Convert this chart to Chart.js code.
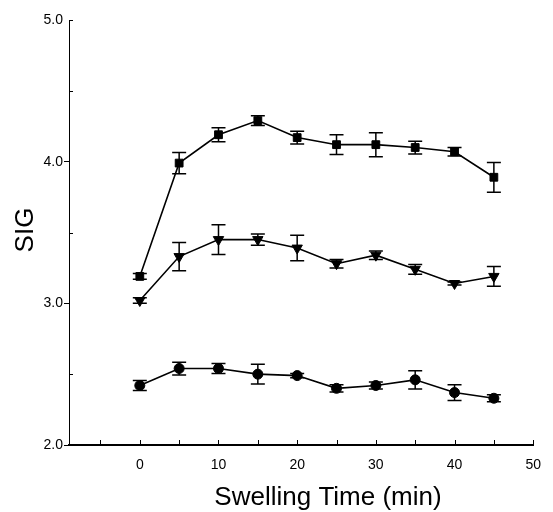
<!DOCTYPE html>
<html>
<head>
<meta charset="utf-8">
<script src="https://cdn.jsdelivr.net/npm/chart.js@4"></script>
<style>
  html, body { margin: 0; padding: 0; background: #fff; }
  #wrap { width: 553px; height: 512px; }
</style>
</head>
<body>
<div id="wrap"><canvas id="chart" width="553" height="512"></canvas></div>
<script>
// swelling time (min)
const times = [0, 5, 10, 15, 20, 25, 30, 35, 40, 45];

// SIG means and error bar half-widths
const squareMean = [3.19, 3.99, 4.19, 4.29, 4.17, 4.12, 4.12, 4.10, 4.07, 3.89];
const squareErr  = [0.02, 0.075, 0.05, 0.035, 0.045, 0.07, 0.085, 0.045, 0.03, 0.105];
const triMean    = [3.02, 3.33, 3.45, 3.45, 3.39, 3.28, 3.34, 3.24, 3.14, 3.19];
const triErr     = [0.02, 0.10, 0.105, 0.04, 0.09, 0.03, 0.03, 0.035, 0.01, 0.07];
const circMean   = [2.42, 2.54, 2.54, 2.50, 2.49, 2.40, 2.42, 2.46, 2.37, 2.33];
const circErr    = [0.035, 0.045, 0.035, 0.07, 0.015, 0.025, 0.025, 0.065, 0.055, 0.025];

// tick positions
const xTicks = [-5, 0, 5, 10, 15, 20, 25, 30, 35, 40, 45, 50];
const yTicks = [2.0, 2.5, 3.0, 3.5, 4.0, 4.5, 5.0];

const FONT = '"Liberation Sans", Arial, sans-serif';

function series(means, errs, style, radius, rotation) {
    return {
        data: times.map((t, i) => ({ x: t, y: means[i] })),
        errors: errs,
        borderColor: '#000',
        backgroundColor: '#000',
        borderWidth: 1.6,
        pointStyle: style,
        pointRadius: radius,
        pointRotation: rotation,
        pointBorderWidth: 1,
        tension: 0
    };
}

// 誤差線: vertical bar with caps, from the y scale
const errorBars = {
    id: 'errorBars',
    beforeDatasetsDraw(chart) {
        const { ctx, scales: { x, y } } = chart;
        ctx.save();
        ctx.strokeStyle = '#000';
        ctx.lineWidth = 1.5;
        chart.data.datasets.forEach(ds => {
            ds.data.forEach((p, i) => {
                const e = ds.errors[i];
                const px = x.getPixelForValue(p.x);
                const top = y.getPixelForValue(p.y + e);
                const bot = y.getPixelForValue(p.y - e);
                ctx.beginPath();
                ctx.moveTo(px, top); ctx.lineTo(px, bot);
                ctx.moveTo(px - 7, top); ctx.lineTo(px + 7, top);
                ctx.moveTo(px - 7, bot); ctx.lineTo(px + 7, bot);
                ctx.stroke();
            });
        });
        ctx.restore();
    }
};

// inward ticks and axis titles
const axisDecor = {
    id: 'axisDecor',
    afterDraw(chart) {
        const { ctx, scales: { x, y }, chartArea } = chart;
        ctx.save();
        ctx.strokeStyle = '#000';
        ctx.lineWidth = 1;
        ctx.beginPath();
        x.ticks.forEach(t => {
            const px = Math.round(x.getPixelForValue(t.value)) + 0.5;
            ctx.moveTo(px, chartArea.bottom);
            ctx.lineTo(px, chartArea.bottom - 5);
        });
        y.ticks.forEach(t => {
            if (Number.isInteger(t.value) && t.value < 5) return;
            const py = Math.round(y.getPixelForValue(t.value)) + 0.5;
            ctx.moveTo(chartArea.left, py);
            ctx.lineTo(chartArea.left + 4, py);
        });
        ctx.stroke();

        ctx.fillStyle = '#000';
        ctx.font = '26px ' + FONT;
        ctx.textAlign = 'center';
        ctx.textBaseline = 'alphabetic';
        ctx.fillText('Swelling Time (min)', 328, 505);

        ctx.translate(33, 230);
        ctx.rotate(-Math.PI / 2);
        ctx.fillText('SIG', 0, 0);
        ctx.restore();
    }
};

new Chart(document.getElementById('chart'), {
    type: 'line',
    data: {
        datasets: [
            series(squareMean, squareErr, 'rect', 5.5, 0),
            series(triMean, triErr, 'triangle', 6, 180),
            series(circMean, circErr, 'circle', 5, 0)
        ]
    },
    options: {
        responsive: false,
        animation: false,
        layout: { padding: { top: 20, right: 10, left: 0, bottom: 0 } },
        plugins: {
            legend: { display: false },
            tooltip: { enabled: false }
        },
        scales: {
            x: {
                type: 'linear',
                min: -9,
                max: 50,
                afterBuildTicks: s => { s.ticks = xTicks.map(v => ({ value: v })); },
                afterFit: s => { s.height = 67; },
                grid: { display: true, drawOnChartArea: false, drawTicks: false },
                border: { display: true, color: '#000', width: 2 },
                ticks: {
                    padding: 12,
                    color: '#000',
                    font: { family: FONT, size: 14 },
                    maxRotation: 0,
                    autoSkip: false,
                    callback: v => (v >= 0 && v % 10 === 0) ? String(v) : ''
                }
            },
            y: {
                type: 'linear',
                min: 2,
                max: 5,
                afterBuildTicks: s => { s.ticks = yTicks.map(v => ({ value: v })); },
                afterFit: s => { s.width = 69; },
                grid: {
                    drawOnChartArea: false,
                    drawTicks: true,
                    tickLength: 5,
                    tickColor: c => (c.tick && Number.isInteger(c.tick.value) && c.tick.value < 5) ? '#000' : 'rgba(0,0,0,0)'
                },
                border: { display: true, color: '#000', width: 1 },
                ticks: {
                    padding: 1,
                    color: '#000',
                    font: { family: FONT, size: 14 },
                    autoSkip: false,
                    callback: v => Number.isInteger(v) ? v.toFixed(1) : ''
                }
            }
        }
    },
    plugins: [errorBars, axisDecor]
});
</script>
</body>
</html>
